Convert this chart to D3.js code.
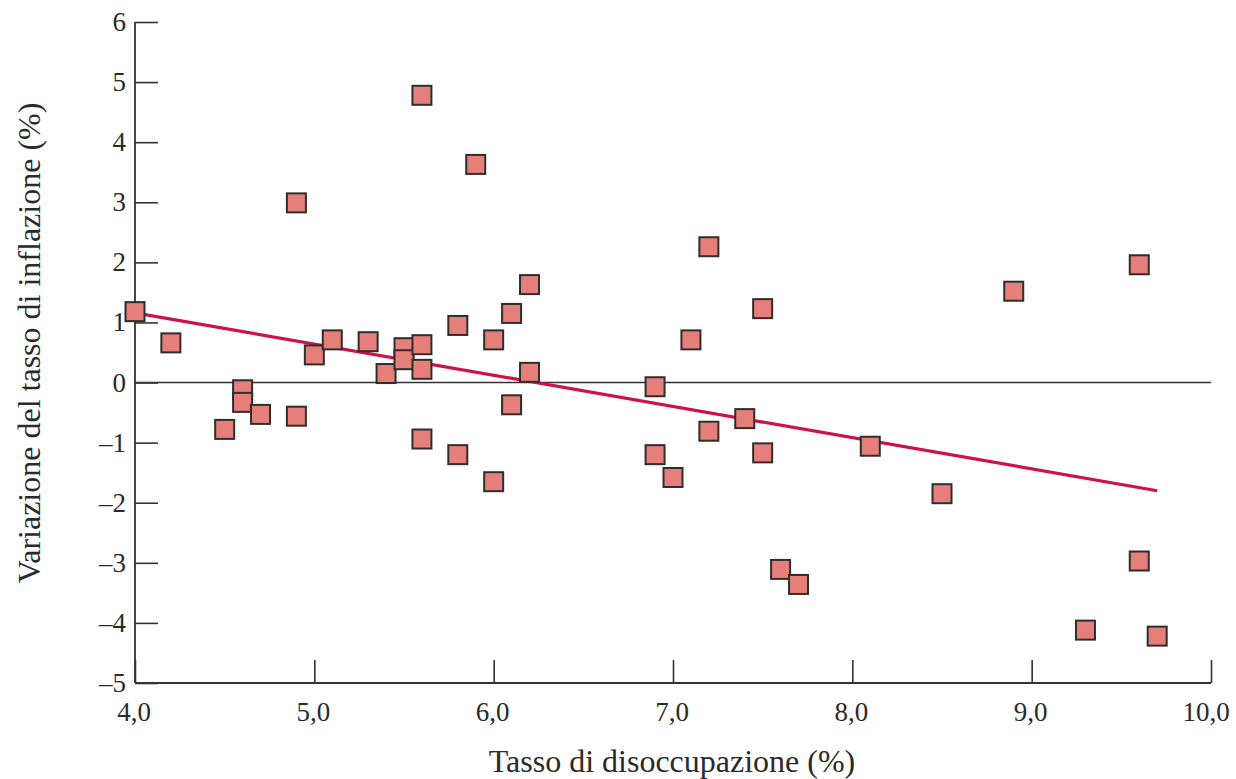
<!DOCTYPE html>
<html>
<head>
<meta charset="utf-8">
<script src="https://cdn.jsdelivr.net/npm/d3@7"></script>
<style>
  body { margin: 0; background: #fff; }
  text { font-family: "Liberation Serif", "DejaVu Serif", serif; fill: #2a2a2a; }
</style>
</head>
<body>
<div id="chart"></div>
<script>
// unemployment rate (%) and change in inflation rate (%)
var unemployment = [4.0, 4.2, 4.5, 4.6, 4.6, 4.7, 4.9, 4.9, 5.0, 5.1, 5.3, 5.4, 5.5, 5.5,
    5.6, 5.6, 5.6, 5.6, 5.8, 5.8, 5.9, 6.0, 6.0, 6.1, 6.1, 6.2, 6.2, 6.9, 6.9, 7.0,
    7.1, 7.2, 7.2, 7.4, 7.5, 7.5, 7.6, 7.7, 8.1, 8.5, 8.9, 9.3, 9.6, 9.6, 9.7];
var inflationChange = [1.18, 0.66, -0.78, -0.12, -0.33, -0.53, -0.56, 2.99, 0.46, 0.71, 0.68, 0.15, 0.58, 0.38,
    0.63, 0.22, 4.78, -0.94, 0.95, -1.20, 3.63, 0.71, -1.65, 1.15, -0.37, 1.63, 0.17, -0.07, -1.20, -1.58,
    0.71, 2.26, -0.81, -0.60, 1.23, -1.17, -3.11, -3.36, -1.06, -1.85, 1.52, -4.12, 1.96, -2.97, -4.22];

// fitted line endpoints
var fitX = [4.0, 9.7];
var fitY = [1.16, -1.80];

var xTicks = [4, 5, 6, 7, 8, 9, 10];
var yTicks = [6, 5, 4, 3, 2, 1, 0, -1, -2, -3, -4, -5];

function init() {
    var w = 1236;
    var h = 779;
    var left = 135, right = 1211, top = 22, bottom = 683;

    var svg = d3.select("#chart")
        .append("svg")
        .attr("width", w)
        .attr("height", h);

    var xScale = d3.scaleLinear().domain([4, 10]).range([left, right]);
    var yScale = d3.scaleLinear().domain([-5, 6]).range([bottom, top]);

    var fmt = function(d) { return d3.format(".1f")(d).replace(".", ","); };

    // x axis, ticks pointing inward
    var xAxis = d3.axisTop(xScale)
        .tickValues(xTicks)
        .tickSize(23)
        .tickFormat("");
    var gx = svg.append("g")
        .attr("transform", "translate(0," + bottom + ")")
        .call(xAxis);
    gx.select(".domain").remove();
    gx.selectAll("line").attr("stroke", "#333").attr("stroke-width", 1.6);
    gx.append("line")
        .attr("x1", left).attr("x2", right)
        .attr("stroke", "#333").attr("stroke-width", 1.8);

    svg.selectAll(".xlab")
        .data(xTicks)
        .enter()
        .append("text")
        .attr("class", "xlab")
        .attr("x", function(d) { return xScale(d) - (d == 10 ? 5 : 1); })
        .attr("y", 721)
        .attr("text-anchor", "middle")
        .attr("font-size", "27px")
        .text(fmt);

    // y axis, ticks pointing inward
    var yAxis = d3.axisRight(yScale)
        .tickValues(yTicks)
        .tickSize(23)
        .tickFormat("");
    var gy = svg.append("g")
        .attr("transform", "translate(" + left + ",0)")
        .call(yAxis);
    gy.select(".domain").remove();
    gy.selectAll("line").attr("stroke", "#333").attr("stroke-width", 1.6);
    gy.append("line")
        .attr("y1", top).attr("y2", bottom)
        .attr("stroke", "#333").attr("stroke-width", 1.8);

    svg.selectAll(".ylab")
        .data(yTicks)
        .enter()
        .append("text")
        .attr("class", "ylab")
        .attr("x", 126)
        .attr("y", function(d) { return yScale(d) + 9; })
        .attr("text-anchor", "end")
        .attr("font-size", "27px")
        .text(function(d) { return d < 0 ? "\u2013" + (-d) : d; });

    // zero line
    svg.append("line")
        .attr("x1", left)
        .attr("x2", right)
        .attr("y1", yScale(0))
        .attr("y2", yScale(0))
        .attr("stroke", "#333")
        .attr("stroke-width", 1.6);

    // fitted line
    var fit = fitX.map(function(x, i) { return [x, fitY[i]]; });
    svg.append("path")
        .datum(fit)
        .attr("d", d3.line()
            .x(function(d) { return xScale(d[0]); })
            .y(function(d) { return yScale(d[1]); }))
        .attr("fill", "none")
        .attr("stroke", "#cf1148")
        .attr("stroke-width", 3.2);

    // squares
    var size = 19;
    var pts = unemployment.map(function(x, i) { return { x: x, y: inflationChange[i] }; });
    svg.selectAll(".pt")
        .data(pts)
        .enter()
        .append("rect")
        .attr("class", "pt")
        .attr("x", function(d) { return xScale(d.x) - size / 2; })
        .attr("y", function(d) { return yScale(d.y) - size / 2; })
        .attr("width", size)
        .attr("height", size)
        .attr("fill", "#e67e7a")
        .attr("stroke", "#2e2e2e")
        .attr("stroke-width", 2);

    // axis titles
    svg.append("text")
        .attr("x", 672)
        .attr("y", 772)
        .attr("text-anchor", "middle")
        .attr("font-size", "32px")
        .text("Tasso di disoccupazione (%)");

    svg.append("text")
        .attr("transform", "translate(40,343) rotate(-90)")
        .attr("text-anchor", "middle")
        .attr("font-size", "32px")
        .text("Variazione del tasso di inflazione (%)");
}
window.onload = init;
</script>
</body>
</html>
